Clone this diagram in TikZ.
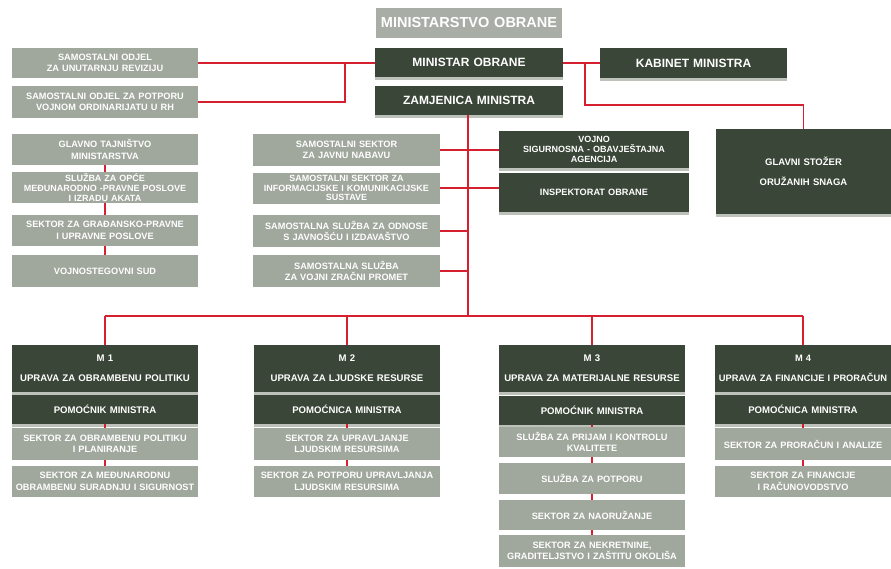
\documentclass[tikz,border=0pt]{standalone}
\usepackage{fontspec}
\setmainfont{Liberation Sans}
\usetikzlibrary{shadows}
\definecolor{dk}{RGB}{58,70,55}
\definecolor{lt}{RGB}{160,167,157}
\definecolor{ttl}{RGB}{168,173,166}
\definecolor{sh}{RGB}{188,193,185}
\definecolor{ln}{RGB}{214,32,48}
\begin{document}
\begin{tikzpicture}[x=1pt,y=-1pt,
  base/.style={inner sep=0pt, align=center, text=white, font=\bfseries\fontsize{9.2}{11.5}\selectfont},
  lbox/.style={base, fill=lt},
  dbox/.style={base, fill=dk, drop shadow={shadow xshift=0pt,shadow yshift=-3pt,fill=sh,opacity=1}},
  sz/.style 2 args={minimum width=#1, text width=#1, minimum height=#2},
  head/.style={font=\bfseries\fontsize{12}{14}\selectfont},
  tight/.style={font=\bfseries\fontsize{9}{9.7}\selectfont},
  mhead/.style={font=\bfseries\fontsize{9.6}{11}\selectfont},
  conn/.style={draw=ln, line width=1.6pt}]
\useasboundingbox[fill=white] (0,0) rectangle (891,568);

% top
\node[lbox, fill=ttl, sz={186pt}{30pt}, font=\bfseries\fontsize{14.5}{16}\selectfont] (title) at (469,23) {MINISTARSTVO OBRANE};
\node[dbox, head, sz={188pt}{29pt}] (min) at (469,62.5) {MINISTAR OBRANE};
\node[dbox, head, sz={188pt}{29pt}] (zam) at (469,100.5) {ZAMJENICA MINISTRA};
\node[dbox, head, sz={187pt}{30pt}] (kab) at (693.5,63) {KABINET MINISTRA};

% left
\node[lbox, sz={186pt}{30pt}] (rev) at (105,63) {SAMOSTALNI ODJEL\\ZA UNUTARNJU REVIZIJU};
\node[lbox, sz={186pt}{32pt}] (pot) at (105,102) {SAMOSTALNI ODJEL ZA POTPORU\\VOJNOM ORDINARIJATU U RH};
\node[lbox, sz={186pt}{31pt}] (gt) at (105,149.5) {GLAVNO TAJNIŠTVO\\MINISTARSTVA};
\node[lbox, tight, sz={186pt}{31pt}] (opce) at (105,187.5) {SLUŽBA ZA OPĆE\\MEĐUNARODNO -PRAVNE POSLOVE\\I IZRADU AKATA};
\node[lbox, sz={186pt}{31pt}] (gradj) at (105,230.5) {SEKTOR ZA GRAĐANSKO-PRAVNE\\I UPRAVNE POSLOVE};
\node[lbox, sz={186pt}{32pt}] (vsud) at (105,271) {VOJNOSTEGOVNI SUD};

% middle
\node[lbox, sz={187pt}{32pt}] (nab) at (346.5,150) {SAMOSTALNI SEKTOR\\ZA JAVNU NABAVU};
\node[lbox, tight, sz={187pt}{31pt}] (info) at (346.5,188) {SAMOSTALNI SEKTOR ZA\\INFORMACIJSKE I KOMUNIKACIJSKE\\SUSTAVE};
\node[lbox, sz={187pt}{32pt}] (odn) at (346.5,231) {SAMOSTALNA SLUŽBA ZA ODNOSE\\S JAVNOŠĆU I IZDAVAŠTVO};
\node[lbox, sz={187pt}{32pt}] (zrak) at (346.5,271) {SAMOSTALNA SLUŽBA\\ZA VOJNI ZRAČNI PROMET};

% right
\node[dbox, tight, sz={190pt}{37pt}] (vsoa) at (594,149.5) {VOJNO\\SIGURNOSNA - OBAVJEŠTAJNA\\AGENCIJA};
\node[dbox, sz={190pt}{39pt}] (insp) at (594,192.5) {INSPEKTORAT OBRANE};
\node[dbox, sz={175pt}{85pt}, font=\bfseries\fontsize{9.5}{20}\selectfont] (gs) at (803.5,171.5) {GLAVNI STOŽER\\ORUŽANIH SNAGA};

% M1
\node[dbox, mhead, sz={186pt}{47pt}] (m1) at (105,368.5) {M 1\\[9pt]UPRAVA ZA OBRAMBENU POLITIKU};
\node[dbox, mhead, sz={186pt}{29pt}] (p1) at (105,409.5) {POMOĆNIK MINISTRA};
\node[lbox, sz={186pt}{32pt}] (s11) at (105,444) {SEKTOR ZA OBRAMBENU POLITIKU\\I PLANIRANJE};
\node[lbox, sz={186pt}{31pt}] (s12) at (105,481.5) {SEKTOR ZA MEĐUNARODNU\\OBRAMBENU SURADNJU I SIGURNOST};
% M2
\node[dbox, mhead, sz={186pt}{47pt}] (m2) at (347,368.5) {M 2\\[9pt]UPRAVA ZA LJUDSKE RESURSE};
\node[dbox, mhead, sz={186pt}{29pt}] (p2) at (347,409.5) {POMOĆNICA MINISTRA};
\node[lbox, sz={186pt}{32pt}] (s21) at (347,444) {SEKTOR ZA UPRAVLJANJE\\LJUDSKIM RESURSIMA};
\node[lbox, sz={186pt}{31pt}] (s22) at (347,481.5) {SEKTOR ZA POTPORU UPRAVLJANJA\\LJUDSKIM RESURSIMA};
% M3
\node[dbox, mhead, sz={186pt}{47pt}] (m3) at (592,368.5) {M 3\\[9pt]UPRAVA ZA MATERIJALNE RESURSE};
\node[dbox, mhead, sz={186pt}{29pt}] (p3) at (592,410) {POMOĆNIK MINISTRA};
\node[lbox, sz={186pt}{30pt}] (s31) at (592,442) {SLUŽBA ZA PRIJAM I KONTROLU\\KVALITETE};
\node[lbox, sz={186pt}{31pt}] (s32) at (592,478.5) {SLUŽBA ZA POTPORU};
\node[lbox, sz={186pt}{30pt}] (s33) at (592,515) {SEKTOR ZA NAORUŽANJE};
\node[lbox, sz={186pt}{32pt}] (s34) at (592,551) {SEKTOR ZA NEKRETNINE,\\GRADITELJSTVO I ZAŠTITU OKOLIŠA};
% M4
\node[dbox, mhead, sz={176pt}{47pt}, font=\bfseries\fontsize{9.3}{11}\selectfont] (m4) at (803,368.5) {M 4\\[9pt]UPRAVA ZA FINANCIJE I PRORAČUN};
\node[dbox, mhead, sz={176pt}{29pt}] (p4) at (803,409.5) {POMOĆNICA MINISTRA};
\node[lbox, sz={176pt}{32pt}] (s41) at (803,444) {SEKTOR ZA PRORAČUN I ANALIZE};
\node[lbox, sz={176pt}{31pt}] (s42) at (803,481.5) {SEKTOR ZA FINANCIJE\\I RAČUNOVODSTVO};

% connectors
\coordinate (j1) at (345,63);
\coordinate (j2) at (585,63);
\coordinate (bus) at (468,316);
\draw[conn] (rev.east) -- (rev.east -| min.west);
\draw[conn] (pot.east) -| (j1);
\draw[conn] (min.east |- j2) -- (j2 -| kab.west);
\draw[conn] (j2) |- (gs.north |- 0,105) -- (gs.north);
\draw[conn] (bus |- zam.south) -- (bus);
\draw[conn] (nab.east) -- (nab.east -| vsoa.west);
\draw[conn] (info.east) -- (info.east -| insp.west);
\draw[conn] (odn.east) -- (odn.east -| bus);
\draw[conn] (zrak.east) -- (zrak.east -| bus);
\draw[conn] (m1.north |- bus) -- (m4.north |- bus);
\foreach \m in {m1,m2,m3,m4} {\draw[conn] (\m.north |- bus) -- (\m.north);}
\draw[conn] (gt.south) -- (opce.north);
\draw[conn] (opce.south) -- (gradj.north);
\draw[conn] (gradj.south) -- (vsud.north);
\draw[conn] (p1.south) -- (s11.north);
\draw[conn] (s11.south) -- (s12.north);
\draw[conn] (p2.south) -- (s21.north);
\draw[conn] (s21.south) -- (s22.north);
\draw[conn] (p3.south) -- (s31.north);
\draw[conn] (s31.south) -- (s32.north);
\draw[conn] (s32.south) -- (s33.north);
\draw[conn] (s33.south) -- (s34.north);
\draw[conn] (p4.south) -- (s41.north);
\draw[conn] (s41.south) -- (s42.north);
\end{tikzpicture}
\end{document}
